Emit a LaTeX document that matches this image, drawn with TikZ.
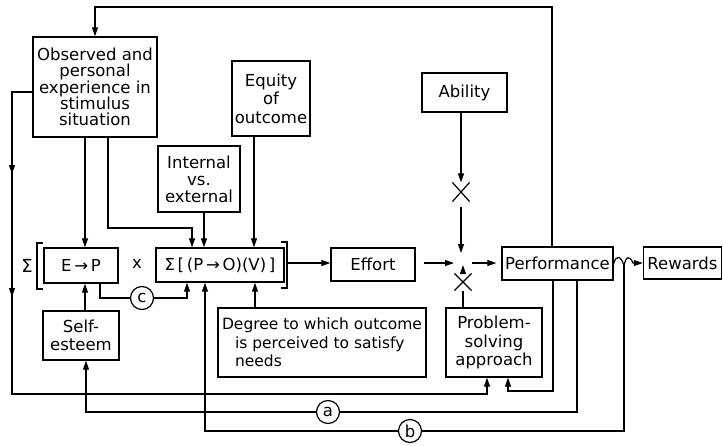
\documentclass[tikz,border=0pt]{standalone}
\usepackage{fontspec}
\setmainfont{DejaVu Sans}
\usetikzlibrary{arrows.meta,shapes.misc,calc}
\begin{document}
\begin{tikzpicture}[x=1pt,y=-1pt,
  line width=1.2pt,
  box/.style={draw,line width=1.4pt,inner sep=0pt,align=center,font=\fontsize{16.5}{18.5}\selectfont},
  arr/.style={-{Triangle[length=9pt,width=6pt]}},
  circ/.style={draw,circle,minimum size=23pt,inner sep=0pt,font=\fontsize{16.5}{18}\selectfont},
  xmark/.style={draw,cross out,minimum width=16pt,minimum height=18pt,inner sep=0pt,line width=1.2pt},
  lbl/.style={inner sep=0pt,font=\fontsize{16.5}{18}\selectfont},
  brk/.style={line width=1.4pt}
]
\useasboundingbox (0,0) rectangle (723,445);

% boxes
\node[box,minimum width=124pt,minimum height=100pt,font=\fontsize{16.5}{16.4}\selectfont] (obs) at (95,87) {Observed and\\personal\\experience in\\stimulus\\situation};
\node[box,minimum width=78pt,minimum height=75pt] (eq) at (271,98.5) {Equity\\of\\outcome};
\node[box,minimum width=82pt,minimum height=66pt,font=\fontsize{16.5}{17}\selectfont] (int) at (199,179) {Internal\\vs.\\external};
\node[box,minimum width=85pt,minimum height=39pt] (abil) at (464.5,92.5) {Ability};
\node[box,minimum width=74pt,minimum height=35pt] (ep) at (81,265.5) {E\,→\,P};
\node[box,minimum width=128pt,minimum height=34pt] (spov) at (220,265) {Σ\,[\,(P\,→\,O)(V)\,]};
\node[box,minimum width=84pt,minimum height=33pt] (eff) at (373,264.5) {Effort};
\node[box,minimum width=111pt,minimum height=33pt] (perf) at (557.5,263.5) {Performance};
\node[box,minimum width=78pt,minimum height=32pt] (rew) at (682.5,263) {Rewards};
\node[box,minimum width=76pt,minimum height=49pt] (self) at (81,335.5) {Self-\\esteem};
\node[box,minimum width=208pt,minimum height=69pt,align=left,font=\fontsize{15.5}{18.5}\selectfont] (deg) at (322,342.5) {Degree to which outcome\\\hspace*{13pt}is perceived to satisfy\\\hspace*{13pt}needs};
\node[box,minimum width=96pt,minimum height=69pt] (ps) at (494,342.5) {Problem-\\solving\\approach};

% labels
\node[lbl,font=\fontsize{18}{18}\selectfont] (sig) at (27,266) {Σ};
\node[lbl] (times) at (137,264) {x};
\draw[brk] (43,243) -- (37,243) -- (37,289) -- (43,289);
\draw[brk] (281,242) -- (287,242) -- (287,288) -- (281,288);

% crosses
\node[xmark] (x1) at (461,192) {};
\node[xmark,minimum width=16pt,minimum height=16pt] (x2) at (463,282) {};

% circles
\node[circ] (c) at (142,298) {c};
\node[circ] (a) at (328,412) {a};
\node[circ] (b) at (410,431) {b};

% helper coordinates
\coordinate (t1) at (552,7);
\coordinate (t2) at (95,7);
\coordinate (l1) at (12,92);
\coordinate (l2) at (12,394);
\coordinate (psA) at (487,394);
\coordinate (o1) at (85,0);
\coordinate (o2) at (108,228);
\coordinate (o3) at (192,228);
\coordinate (o4) at (204,0);
\coordinate (o5) at (254,0);
\coordinate (c1) at (100,0);
\coordinate (c2) at (187,0);
\coordinate (d1) at (255,0);
\coordinate (brR) at (288,263);
\coordinate (j) at (462,263);
\coordinate (p1) at (553,391);
\coordinate (p2) at (508,391);
\coordinate (p3) at (577,412);
\coordinate (p4) at (86,412);
\coordinate (wv) at (624,266);
\coordinate (bq) at (624,431);
\coordinate (b2) at (205,431);

% top loop
\draw[arr] (t1 |- perf.north) -- (t1) -- (t2) -- (t2 |- obs.north);
% left loop
\draw[arr] (obs.west |- l1) -- (l1) -- (12,174);
\draw[arr] (12,170) -- (12,297);
\draw[arr] (12,293) -- (l2) -- (psA) -- (psA |- ps.south);
% observed to E->P and Sigma
\draw[arr] (o1 |- obs.south) -- (o1 |- ep.north);
\draw[arr] (o2 |- obs.south) -- (o2) -- (o3) -- (o3 |- spov.north);
\draw[arr] (o4 |- int.south) -- (o4 |- spov.north);
\draw[arr] (o5 |- eq.south) -- (o5 |- spov.north);
% c link
\draw (c1 |- ep.south) -- (c1 |- c.west) -- (c.west);
\draw[arr] (c.east) -- (c2 |- c.east) -- (c2 |- spov.south);
% self-esteem and degree
\draw[arr] (o1 |- self.north) -- (o1 |- ep.south);
\draw[arr] (d1 |- deg.north) -- (d1 |- spov.south);
% to effort and performance
\draw[arr] (brR) -- (brR -| eff.west);
\draw[arr,shorten <=8pt,shorten >=8pt] (eff.east |- j) -- (j);
\draw[arr] (x1 |- abil.south) -- (x1.north);
\draw[arr,shorten <=5pt,shorten >=10pt] (x1.south) -- (x1.south |- j);
\draw (x2 |- ps.north) -- (x2.south);
\draw[arr,shorten >=2pt] (x2.north) -- (x2.north |- j);
\draw[arr,shorten <=10pt,shorten >=5pt] (j) -- (perf.west |- j);
% performance feedback
\draw[arr] (p1 |- perf.south) -- (p1) -- (p2) -- (p2 |- ps.south);
\draw (p3 |- perf.south) -- (p3) -- (a.east);
\draw[arr] (a.west) -- (p4) -- (p4 |- self.south);
% wavy to rewards
\draw[arr] (perf.east) .. controls (616,255) and (621,255) .. (wv) .. controls (626,255) and (630,256) .. (633,263) -- (rew.west);
\draw (wv) -- (bq) -- (b.east);
\draw[arr] (b.west) -- (b2) -- (b2 |- spov.south);
\end{tikzpicture}
\end{document}
